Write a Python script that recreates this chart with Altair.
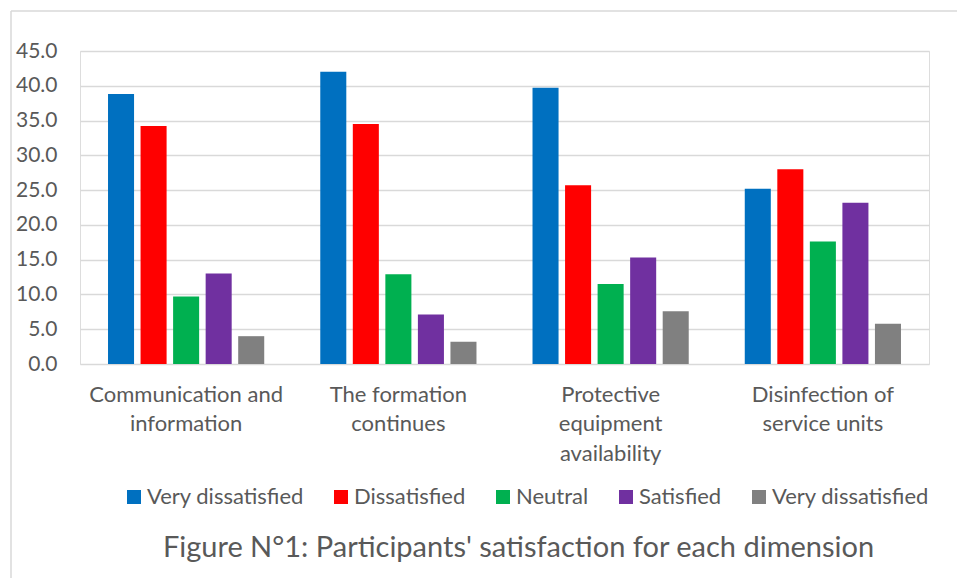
import altair as alt
import pandas as pd

category_lines = [
    ["Communication and", "information"],
    ["The formation", "continues"],
    ["Protective", "equipment", "availability"],
    ["Disinfection of", "service units"],
]
categories = [" ".join(l) for l in category_lines]

series_keys = ["Very dissatisfied", "Dissatisfied", "Neutral", "Satisfied", "Very dissatisfied (2)"]
series_labels = ["Very dissatisfied", "Dissatisfied", "Neutral", "Satisfied", "Very dissatisfied"]
series_colors = ["#0070C0", "#FF0000", "#00B050", "#7030A0", "#808080"]

values = {
    "Very dissatisfied": [38.8, 42.0, 39.7, 25.2],
    "Dissatisfied": [34.2, 34.5, 25.7, 28.0],
    "Neutral": [9.7, 12.9, 11.5, 17.6],
    "Satisfied": [13.0, 7.1, 15.3, 23.2],
    "Very dissatisfied (2)": [4.0, 3.2, 7.6, 5.8],
}

y_ticks = [0, 5, 10, 15, 20, 25, 30, 35, 40, 45]

rows = []
for s in series_keys:
    for c, v in zip(categories, values[s]):
        rows.append({"category": c, "series": s, "value": v})
df = pd.DataFrame(rows)

# multi-line label expression for x axis
x_expr = ""
for c, lines in zip(categories, category_lines):
    arr = "[" + ",".join("'" + l + "'" for l in lines) + "]"
    x_expr += f"datum.label == '{c}' ? {arr} : "
x_expr += "datum.label"

leg_expr = ""
for k, l in zip(series_keys, series_labels):
    if k != l:
        leg_expr += f"datum.label == '{k}' ? '{l}' : "
leg_expr += "datum.label"

FONT = "Lato"
TXT = "#595959"
GRID = "#d9d9d9"

bars = alt.Chart(df).mark_bar().encode(
    x=alt.X(
        "category:N",
        sort=categories,
        scale=alt.Scale(paddingInner=0.264, paddingOuter=0.132),
        axis=alt.Axis(
            title=None,
            labelExpr=x_expr,
            labelAngle=0,
            labelFont=FONT,
            labelFontSize=22,
            labelColor=TXT,
            labelLineHeight=29.5,
            labelPadding=20,
            labelBaseline="top",
            ticks=False,
            tickSize=0,
            domain=False,
            labelLimit=400,
        ),
    ),
    xOffset=alt.XOffset("series:N", sort=series_keys, scale=alt.Scale(paddingInner=0.2, paddingOuter=0)),
    y=alt.Y(
        "value:Q",
        scale=alt.Scale(domain=[0, 45], nice=False),
        axis=alt.Axis(
            title=None,
            values=y_ticks,
            format=".1f",
            labelFont=FONT,
            labelFontSize=21,
            labelColor=TXT,
            labelPadding=23,
            ticks=False,
            tickSize=0,
            domain=False,
            grid=True,
            gridColor=GRID,
            gridWidth=1.5,
        ),
    ),
    color=alt.Color(
        "series:N",
        sort=series_keys,
        scale=alt.Scale(domain=series_keys, range=series_colors),
        legend=alt.Legend(
            title=None,
            orient="none",
            direction="horizontal",
            legendX=43,
            legendY=435,
            padding=0,
            symbolType="square",
            symbolSize=196,
            symbolStrokeWidth=0,
            symbolOpacity=1,
            labelExpr=leg_expr,
            labelFont=FONT,
            labelFontSize=22,
            labelColor=TXT,
            labelOffset=2,
            columnPadding=26,
            labelLimit=400,
        ),
    ),
)

frame_data = alt.Data(values=[{"f": 1}])
left_frame = alt.Chart(frame_data).mark_rule(color=GRID, strokeWidth=1.5).encode(
    x=alt.value(-69), y=alt.value(-40), y2=alt.value(527)
)
top_frame = alt.Chart(frame_data).mark_rule(color=GRID, strokeWidth=1.5).encode(
    x=alt.value(-69), x2=alt.value(877), y=alt.value(-40)
)

chart = alt.layer(left_frame, top_frame, bars).properties(
    width=849,
    height=313,
    autosize=alt.AutoSizeParams(type="none"),
    padding={"left": 80, "top": 51, "right": 28, "bottom": 214},
    title=alt.TitleParams(
        "Figure N°1: Participants' satisfaction for each dimension",
        orient="bottom",
        anchor="middle",
        frame="group",
        font=FONT,
        fontSize=29,
        fontWeight="normal",
        color=TXT,
        offset=-45,
        dx=14,
    ),
).configure_view(stroke=None).configure(background="white")

chart.save("out.html", embed_options={"renderer": "svg", "actions": False})
